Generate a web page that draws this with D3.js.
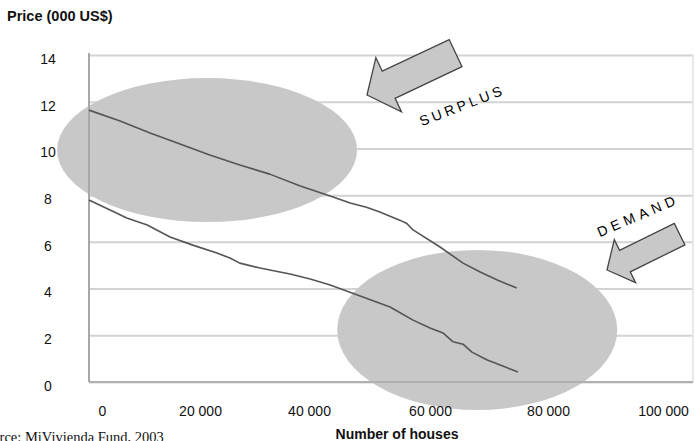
<!DOCTYPE html>
<html>
<head>
<meta charset="utf-8">
<script src="https://cdn.jsdelivr.net/npm/d3@7"></script>
<style>
  body { margin: 0; background: #fff; }
  svg { display: block; }
</style>
</head>
<body>
<div id="chart"></div>
<script>
// axis ticks
const yTicks = [0, 2, 4, 6, 8, 10, 12, 14];
const xTicks = [0, 20000, 40000, 60000, 80000, 100000];

// supply (upper) curve
const supplyHouses = [0, 5600, 11000, 16400, 21800, 27300, 32800, 38400, 43500, 46800, 49500, 51700, 55000, 56100, 57200, 61700, 65600, 68500, 71400, 74700];
const supplyPrice  = [11.64, 11.17, 10.66, 10.19, 9.72, 9.29, 8.90, 8.39, 7.96, 7.66, 7.48, 7.28, 6.93, 6.80, 6.51, 5.78, 5.09, 4.71, 4.37, 4.02];

// demand (lower) curve
const demandHouses = [0, 3800, 6800, 10500, 14600, 18700, 23100, 25500, 27300, 31000, 36500, 40200, 43500, 48900, 53400, 57200, 60000, 62200, 63900, 65600, 67100, 69700, 71900, 74900];
const demandPrice  = [7.79, 7.36, 7.02, 6.72, 6.21, 5.86, 5.52, 5.31, 5.09, 4.88, 4.62, 4.41, 4.15, 3.64, 3.21, 2.65, 2.31, 2.10, 1.72, 1.62, 1.28, 0.94, 0.73, 0.43];

const width = 695, height = 441;
const plot = { left: 89, right: 693, top: 55, bottom: 382 };

const svg = d3.select("#chart")
              .append("svg")
              .attr("width", width)
              .attr("height", height)
              .style("font-family", "Arial, 'Liberation Sans', sans-serif");

// the original image is not evenly spaced along x, so use a polylinear scale
const xScale = d3.scaleLinear()
                 .domain(xTicks)
                 .range([plot.left, 200, 309, 430, 548, 663]);

const yScale = d3.scaleLinear()
                 .domain([0, 14])
                 .range([plot.bottom, plot.top]);

// gridlines + y labels
const yAxis = svg.append("g")
                 .attr("transform", `translate(${plot.left}, 0)`)
                 .call(d3.axisLeft(yScale).tickValues(yTicks).tickSize(-(plot.right - plot.left)).tickPadding(0));
yAxis.select(".domain").remove();
yAxis.selectAll(".tick line")
     .attr("stroke", "#d3d3d3")
     .attr("stroke-width", 2);
yAxis.selectAll(".tick text")
     .attr("x", 48 - plot.left)
     .attr("dy", "0.6em")
     .attr("text-anchor", "middle")
     .attr("fill", "#111")
     .style("font-size", "14px")
     .style("font-family", "Arial, 'Liberation Sans', sans-serif");

// right border of the plot area
svg.append("line")
   .attr("x1", plot.right).attr("x2", plot.right)
   .attr("y1", plot.top).attr("y2", plot.bottom)
   .attr("stroke", "#e2e2e2")
   .attr("stroke-width", 1.5);

// highlight ellipses
const ellipses = [
  { houses: 21300, price: 9.93, rx: 150, ry: 72 },
  { houses: 68000, price: 2.23, rx: 140, ry: 80 }
];
svg.selectAll("ellipse")
   .data(ellipses)
   .join("ellipse")
   .attr("cx", d => xScale(d.houses))
   .attr("cy", d => yScale(d.price))
   .attr("rx", d => d.rx)
   .attr("ry", d => d.ry)
   .attr("fill", "#c8c8c8");

// axis lines
svg.append("line")
   .attr("x1", plot.left).attr("x2", plot.left)
   .attr("y1", plot.top - 2).attr("y2", plot.bottom)
   .attr("stroke", "#a8a8a8")
   .attr("stroke-width", 2);
svg.append("line")
   .attr("x1", plot.left).attr("x2", plot.right)
   .attr("y1", plot.bottom).attr("y2", plot.bottom)
   .attr("stroke", "#b0b0b0")
   .attr("stroke-width", 2);

// x labels
const xAxis = svg.append("g")
                 .attr("transform", `translate(0, ${plot.bottom})`)
                 .call(d3.axisBottom(xScale).tickValues(xTicks).tickSize(0).tickPadding(0)
                         .tickFormat(d => d3.format(",")(d).replace(/,/g, " ")));
xAxis.select(".domain").remove();
xAxis.selectAll(".tick text")
     .attr("y", 34)
     .attr("dy", 0)
     .attr("fill", "#111")
     .style("font-size", "14px")
     .style("font-family", "Arial, 'Liberation Sans', sans-serif");
xAxis.selectAll(".tick")
     .filter(d => d === 0)
     .select("text")
     .attr("x", 13);

// curves
const line = d3.line()
               .x(d => xScale(d[0]))
               .y(d => yScale(d[1]));

[[supplyHouses, supplyPrice], [demandHouses, demandPrice]].forEach(([xs, ys]) => {
  svg.append("path")
     .datum(xs.map((x, i) => [x, ys[i]]))
     .attr("d", line)
     .attr("fill", "none")
     .attr("stroke", "#555")
     .attr("stroke-width", 1.6)
     .attr("stroke-linejoin", "round");
});

// block arrows
const arrowPath = (tx, ty, angle, len, headLen, headW, bodyW) => {
  const a = angle * Math.PI / 180;
  const dx = Math.cos(a), dy = Math.sin(a);
  const nx = -dy, ny = dx;
  const bx = tx - dx * headLen, by = ty - dy * headLen;
  const cx = tx - dx * len, cy = ty - dy * len;
  const pts = [
    [tx, ty],
    [bx + nx * headW / 2, by + ny * headW / 2],
    [bx + nx * bodyW / 2, by + ny * bodyW / 2],
    [cx + nx * bodyW / 2, cy + ny * bodyW / 2],
    [cx - nx * bodyW / 2, cy - ny * bodyW / 2],
    [bx - nx * bodyW / 2, by - ny * bodyW / 2],
    [bx - nx * headW / 2, by - ny * headW / 2]
  ];
  return "M" + pts.map(p => p.join(",")).join("L") + "Z";
};

svg.append("path")
   .attr("d", arrowPath(367, 95, 154.7, 98, 24, 60, 30))
   .attr("fill", "#c8c8c8")
   .attr("stroke", "#444")
   .attr("stroke-width", 1.3);
svg.append("path")
   .attr("d", arrowPath(607, 270, 153.7, 81, 20, 48, 24))
   .attr("fill", "#c8c8c8")
   .attr("stroke", "#444")
   .attr("stroke-width", 1.3);

// annotations
svg.append("text")
   .attr("transform", "translate(464, 110) rotate(-21)")
   .attr("text-anchor", "middle")
   .style("font-size", "14px")
   .style("letter-spacing", "3.5px")
   .attr("fill", "#000")
   .text("SURPLUS");
svg.append("text")
   .attr("transform", "translate(640, 220) rotate(-23)")
   .attr("text-anchor", "middle")
   .style("font-size", "14px")
   .style("letter-spacing", "4.5px")
   .attr("fill", "#000")
   .text("DEMAND");

// titles
svg.append("text")
   .attr("x", 7)
   .attr("y", 21)
   .style("font-size", "14.5px")
   .style("font-weight", "bold")
   .attr("fill", "#111")
   .text("Price (000 US$)");
svg.append("text")
   .attr("x", 397)
   .attr("y", 439)
   .attr("text-anchor", "middle")
   .style("font-size", "14px")
   .style("font-weight", "bold")
   .attr("fill", "#111")
   .text("Number of houses");
// the source line is cropped at the left edge in the original picture
svg.append("text")
   .attr("x", -23)
   .attr("y", 442)
   .style("font-size", "14.5px")
   .style("font-family", "'Liberation Serif', 'Times New Roman', serif")
   .attr("fill", "#111")
   .text("Source: MiVivienda Fund, 2003");
</script>
</body>
</html>
